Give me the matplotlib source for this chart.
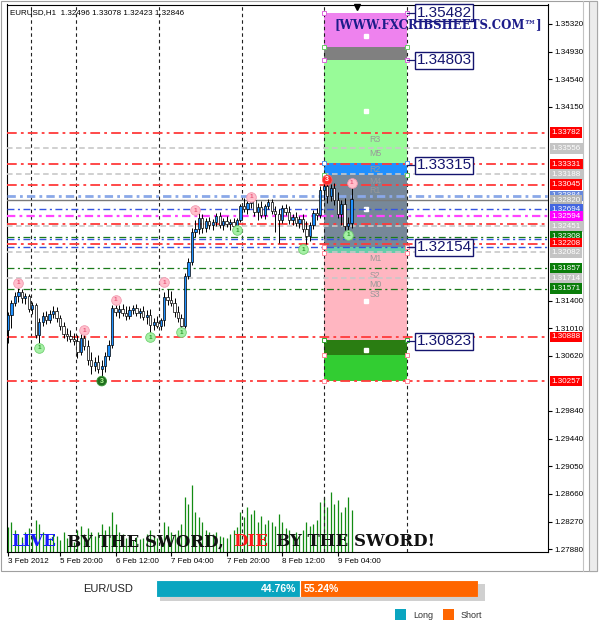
import matplotlib
matplotlib.use('Agg')
import matplotlib.pyplot as plt
from matplotlib.patches import Rectangle
import matplotlib.transforms as mtransforms

plt.rcParams['lines.scale_dashes'] = False
plt.rcParams['font.family'] = ['Liberation Sans', 'DejaVu Sans']

W, H = 599, 625

# ---------------- data ----------------
header_text = "EURUSD,H1  1.32496 1.33078 1.32423 1.32846"

opens = [1.3098, 1.3120, 1.3137, 1.3147, 1.3152, 1.3144, 1.3147, 1.3128, 1.3134, 1.3091,
         1.3110, 1.3118, 1.3112, 1.3121, 1.3125, 1.3115, 1.3104, 1.3092, 1.3090, 1.3085,
         1.3083, 1.3067, 1.3087, 1.3076, 1.3056, 1.3047, 1.3053, 1.3043, 1.3047, 1.3062,
         1.3077, 1.3129, 1.3124, 1.3128, 1.3122, 1.3118, 1.3127, 1.3129, 1.3122, 1.3125,
         1.3117, 1.3120, 1.3105, 1.3110, 1.3104, 1.3112, 1.3145, 1.3141, 1.3137, 1.3124,
         1.3115, 1.3104, 1.3175, 1.3195, 1.3237, 1.3241, 1.3257, 1.3243, 1.3253, 1.3247,
         1.3251, 1.3260, 1.3247, 1.3253, 1.3248, 1.3251, 1.3246, 1.3254, 1.3274, 1.3270,
         1.3278, 1.3283, 1.3265, 1.3273, 1.3261, 1.3274, 1.3280, 1.3267, 1.3263, 1.3254,
         1.3271, 1.3265, 1.3254, 1.3258, 1.3250, 1.3256, 1.3241, 1.3231, 1.3247, 1.3264,
         1.3261, 1.3297, 1.3302, 1.3288, 1.3299, 1.3283, 1.3263, 1.3277, 1.3246, 1.32496]
highs = [1.3124, 1.3141, 1.3152, 1.3159, 1.3156, 1.3151, 1.3149, 1.3138, 1.3137, 1.3115,
         1.3124, 1.3125, 1.3127, 1.3132, 1.3131, 1.3120, 1.3110, 1.3101, 1.3098, 1.3094,
         1.3091, 1.3095, 1.3097, 1.3084, 1.3067, 1.3060, 1.3063, 1.3056, 1.3067, 1.3084,
         1.3134, 1.3141, 1.3134, 1.3135, 1.3132, 1.3132, 1.3134, 1.3135, 1.3129, 1.3132,
         1.3127, 1.3128, 1.3115, 1.3118, 1.3115, 1.3152, 1.3156, 1.3154, 1.3144, 1.3132,
         1.3121, 1.3179, 1.3200, 1.3243, 1.3254, 1.3264, 1.3263, 1.3257, 1.3258, 1.3256,
         1.3264, 1.3265, 1.3257, 1.3260, 1.3256, 1.3257, 1.3257, 1.3277, 1.3285, 1.3281,
         1.3284, 1.3287, 1.3278, 1.3281, 1.3277, 1.3284, 1.3284, 1.3274, 1.3270, 1.3275,
         1.3277, 1.3274, 1.3263, 1.3265, 1.3260, 1.3263, 1.3253, 1.3251, 1.3268, 1.3271,
         1.3302, 1.3307, 1.3314, 1.3305, 1.3307, 1.3294, 1.3283, 1.3285, 1.3258, 1.33078]
lows = [1.3080, 1.3101, 1.3132, 1.3138, 1.3137, 1.3135, 1.3124, 1.3121, 1.3087, 1.3080,
        1.3104, 1.3107, 1.3108, 1.3115, 1.3110, 1.3099, 1.3087, 1.3083, 1.3081, 1.3077,
        1.3059, 1.3063, 1.3070, 1.3049, 1.3036, 1.3040, 1.3037, 1.3026, 1.3039, 1.3056,
        1.3073, 1.3118, 1.3115, 1.3118, 1.3112, 1.3114, 1.3121, 1.3118, 1.3115, 1.3112,
        1.3107, 1.3090, 1.3098, 1.3101, 1.3099, 1.3104, 1.3134, 1.3132, 1.3117, 1.3110,
        1.3099, 1.3101, 1.3171, 1.3190, 1.3230, 1.3234, 1.3236, 1.3237, 1.3241, 1.3240,
        1.3246, 1.3243, 1.3240, 1.3244, 1.3240, 1.3244, 1.3243, 1.3251, 1.3265, 1.3263,
        1.3271, 1.3260, 1.3254, 1.3257, 1.3256, 1.3270, 1.3263, 1.3237, 1.3222, 1.3250,
        1.3261, 1.3248, 1.3247, 1.3246, 1.3243, 1.3237, 1.3220, 1.3224, 1.3241, 1.3254,
        1.3257, 1.3283, 1.3278, 1.3281, 1.3275, 1.3257, 1.3247, 1.3240, 1.3237, 1.32423]
closes = [1.3120, 1.3137, 1.3147, 1.3152, 1.3144, 1.3147, 1.3128, 1.3134, 1.3091, 1.3110,
          1.3118, 1.3112, 1.3121, 1.3125, 1.3115, 1.3104, 1.3092, 1.3090, 1.3085, 1.3083,
          1.3067, 1.3087, 1.3076, 1.3056, 1.3047, 1.3053, 1.3043, 1.3047, 1.3062, 1.3077,
          1.3129, 1.3124, 1.3128, 1.3122, 1.3118, 1.3127, 1.3129, 1.3122, 1.3125, 1.3117,
          1.3120, 1.3105, 1.3110, 1.3104, 1.3112, 1.3145, 1.3141, 1.3137, 1.3124, 1.3115,
          1.3104, 1.3175, 1.3195, 1.3237, 1.3241, 1.3257, 1.3243, 1.3253, 1.3247, 1.3251,
          1.3260, 1.3247, 1.3253, 1.3248, 1.3251, 1.3246, 1.3254, 1.3274, 1.3270, 1.3278,
          1.3283, 1.3265, 1.3273, 1.3261, 1.3274, 1.3280, 1.3267, 1.3263, 1.3254, 1.3271,
          1.3265, 1.3254, 1.3258, 1.3250, 1.3256, 1.3241, 1.3231, 1.3247, 1.3264, 1.3261,
          1.3297, 1.3302, 1.3288, 1.3299, 1.3283, 1.3263, 1.3277, 1.3246, 1.3250, 1.32846]
volumes = [1125, 1350, 990, 810, 675, 900, 1080, 810, 1440, 1260,
           900, 675, 630, 810, 720, 540, 900, 630, 540, 450,
           990, 1170, 810, 1080, 900, 720, 900, 1260, 990, 1170,
           1800, 1260, 900, 810, 630, 720, 540, 675, 585, 630,
           810, 990, 720, 630, 675, 1350, 1170, 900, 810, 990,
           1260, 2475, 2160, 3015, 1800, 1575, 1350, 990, 900, 810,
           900, 720, 675, 630, 810, 990, 1125, 1800, 1575, 2025,
           1710, 1890, 1350, 1620, 1260, 1440, 1350, 1170, 1710, 1350,
           1080, 990, 810, 900, 720, 990, 1350, 1170, 1260, 1440,
           2250, 2475, 2025, 2700, 2160, 2340, 1800, 2025, 2475, 1890]

x_tick_bars = [0, 15, 31, 47, 63, 79, 95]
x_tick_labels = ["3 Feb 2012", "5 Feb 20:00", "6 Feb 12:00", "7 Feb 04:00",
                 "7 Feb 20:00", "8 Feb 12:00", "9 Feb 04:00"]
day_lines = [6.6, 19.6, 43.5, 67.4, 91.1, 114.9]

y_ticks = [1.35320, 1.34930, 1.34540, 1.34150, 1.31400, 1.31010, 1.30620,
           1.29840, 1.29440, 1.29050, 1.28660, 1.28270, 1.27880]

level_prices = [1.33782, 1.33556, 1.33331, 1.33188, 1.33045, 1.32884, 1.32820,
                1.32694, 1.32594, 1.32486, 1.32451, 1.32308, 1.32280, 1.32208,
                1.32154, 1.32082, 1.31857, 1.31714, 1.31571, 1.30888, 1.30257]
level_kinds = ['red', 'silver', 'red', 'silver', 'red', 'lblue', 'gray',
               'blue', 'magenta', 'red', 'silver', 'green', 'blue', 'red',
               'blue', 'silver', 'green', 'silver', 'green', 'red', 'red']
level_labeled = [True, True, True, True, True, True, True,
                 True, True, False, True, True, False, True,
                 False, True, True, True, True, True, True]

zone_tops = [1.35482, 1.34990, 1.34803, 1.33346, 1.33180, 1.32160, 1.32075, 1.30842, 1.30630]
zone_bottoms = [1.34990, 1.34803, 1.33346, 1.33180, 1.32160, 1.32075, 1.30842, 1.30630, 1.30261]
zone_colors = ['#ee82ee', '#808080', '#98fb98', '#1e90ff', '#778899',
               '#66cdaa', '#ffb6c1', '#2a7d12', '#32cd32']
zone_left, zone_right = 91.1, 114.9

pivot_names = ['R3', 'M5', 'R2', 'M4', 'R1', 'M1', 'S2', 'M0', 'S3']
pivot_prices = [1.33690, 1.33478, 1.33258, 1.33095, 1.32958, 1.31990, 1.31763, 1.31635, 1.31480]
center_dots = [1.35150, 1.34087, 1.32698, 1.31395, 1.30700]

box_prices = [1.35482, 1.34803, 1.33315, 1.32154, 1.30823]

top_mark_x = [3, 22, 31, 45, 54, 70, 99]
top_mark_y = [1.3165, 1.3098, 1.3141, 1.3166, 1.3268, 1.3287, 1.3307]
bot_mark_x = [9, 41, 50, 66, 85, 98]
bot_mark_y = [1.3073, 1.3088, 1.3095, 1.3240, 1.3213, 1.3233]
sig3_x = [27, 92]
sig3_y = [1.3026, 1.3311]

pair_name = "EUR/USD"
long_pct, short_pct = 44.76, 55.24

slogan_parts = ["LIVE", "BY THE SWORD,", "DIE", "BY THE SWORD!"]
slogan_colors = ['#1a1aff', '#111111', '#ff1a1a', '#111111']
watermark = "[WWW.FXCRIBSHEETS.COM\u2122]"

# ---------------- figure ----------------
fig = plt.figure(figsize=(W / 100, H / 100), dpi=100)
fig.patch.set_facecolor('white')


def fx(p):
    return p / W


def fy(p):
    return 1 - p / H


# window frame
fig.patches.append(Rectangle((fx(1), fy(571)), fx(597) - fx(1), (571 - 1) / H,
                             transform=fig.transFigure, fill=False, ec='#a0a0a0', lw=0.8, zorder=-2))
fig.patches.append(Rectangle((fx(589), fy(571)), fx(597) - fx(589), (571 - 1) / H,
                             transform=fig.transFigure, fc='#ececec', ec='#a8a8a8', lw=0.8, zorder=-2))
fig.lines.append(plt.Line2D([fx(583), fx(583)], [fy(1), fy(571)], transform=fig.transFigure,
                            color='#c4c4c4', lw=0.8))

X0, X1 = -0.288, 155.62
Y0, Y1 = 1.27838, 1.35596
rect = [fx(7), fy(552), fx(548) - fx(7), (552 - 4.5) / H]

axv = fig.add_axes(rect, zorder=0)
axv.set_xlim(X0, X1)
axv.set_ylim(0, 24480)
axv.axis('off')
axv.vlines(range(len(volumes)), 0, volumes, color='#138c13', lw=0.9)

ax = fig.add_axes(rect, zorder=1)
ax.patch.set_alpha(0)
ax.set_xlim(X0, X1)
ax.set_ylim(Y0, Y1)
for s in ax.spines.values():
    s.set_color('black')
    s.set_linewidth(0.8)

# zones
for t, b, c in zip(zone_tops, zone_bottoms, zone_colors):
    ax.bar((zone_left + zone_right) / 2, t - b, bottom=b, width=zone_right - zone_left,
           color=c, lw=0, zorder=1)
for name, p in zip(pivot_names, pivot_prices):
    ax.text(105.8, p, name, color='#999999', fontsize=6.3, ha='center', va='center', zorder=2)
ax.plot([103.2] * len(center_dots), center_dots, 's', ms=2.3, color='white', zorder=2)

handle_prices = [1.35482, 1.34990, 1.34803, 1.33346, 1.33180, 1.32160, 1.32075, 1.30842, 1.30630, 1.30261]
handle_cols = ['#dd66dd', '#66cc66', '#dd66dd', '#5599ee', '#66cc66', '#ff8899', '#ff8899', '#33aa33', '#ff8899', '#ff8899']
for p, c in zip(handle_prices, handle_cols):
    ax.plot([zone_left, zone_right], [p, p], 's', ms=2.6, mfc='white', mec=c, mew=0.7, zorder=4, clip_on=False)

# vertical day grid
for d in day_lines:
    ax.axvline(d, color='#202020', lw=0.8, dashes=(2.5, 2.2), zorder=2)

# horizontal levels
styles = {
    'red': dict(color='#ff3a3a', lw=1.3, dashes=(7, 3, 2, 3)),
    'silver': dict(color='#c8c8c8', lw=1.2, dashes=(4, 2.5)),
    'green': dict(color='#1a7a1a', lw=0.9, dashes=(5, 2.5, 1.5, 2.5)),
    'blue': dict(color='#3555e0', lw=1.0, dashes=(5, 2.5, 1.5, 2.5)),
    'lblue': dict(color='#8aa8e8', lw=2.0, dashes=(6, 3, 2, 3)),
    'magenta': dict(color='#ff44ff', lw=1.6, dashes=(6, 3, 2, 3)),
    'gray': dict(color='#7a7a7a', lw=1.0, linestyle='-'),
}
label_bg = {'red': '#ff0000', 'silver': '#c4c4c4', 'green': '#0a7d0a', 'blue': '#4466e0',
            'lblue': '#6688dd', 'magenta': '#ff00ff', 'gray': '#b4b4b4'}
for p, k in zip(level_prices, level_kinds):
    ax.axhline(p, zorder=3, **styles[k])

# candles
idx = list(range(len(closes)))
ax.vlines(idx, lows, highs, color='black', lw=0.7, zorder=5)
bottoms = [min(o, c) for o, c in zip(opens, closes)]
heights = [max(abs(c - o), 0.00004) for o, c in zip(opens, closes)]
body_cols = ['#1e90ff' if c >= o else 'white' for o, c in zip(opens, closes)]
ax.bar(idx, heights, bottom=bottoms, width=0.66, color=body_cols, edgecolor='black', lw=0.5, zorder=6)

# fractal / signal markers
ax.scatter(top_mark_x, top_mark_y, s=48, c='#ffbfcc', edgecolors='#f29ab0', linewidths=0.6, zorder=8)
for x, y in zip(top_mark_x, top_mark_y):
    ax.text(x, y, '1', fontsize=4.5, color='#e8587a', ha='center', va='center', zorder=9, weight='bold')
ax.scatter(bot_mark_x, bot_mark_y, s=48, c='#a6f0a6', edgecolors='#70d070', linewidths=0.6, zorder=8)
for x, y in zip(bot_mark_x, bot_mark_y):
    ax.text(x, y, '1', fontsize=4.5, color='#2e9e2e', ha='center', va='center', zorder=9, weight='bold')
ax.scatter(sig3_x, sig3_y, s=48, c=['#1f6e1f', '#ff2a2a'], edgecolors=['#3a9a3a', '#ff6060'],
           linewidths=0.6, zorder=8)
for x, y, tc in zip(sig3_x, sig3_y, ['#b8ff9a', 'white']):
    ax.text(x, y, '3', fontsize=5, color=tc, ha='center', va='center', zorder=9, weight='bold')

# right-side boxed level labels
for p in box_prices:
    ax.plot([zone_right, 117.4], [p, p], color='#1a1a6e', lw=0.9, clip_on=False, zorder=4)
    ax.text(117.7, p, f"{p:.5f}", fontsize=11, color='#14146e', va='center', ha='left',
            bbox=dict(boxstyle='square,pad=0.12', fc='white', ec='#14146e', lw=1), zorder=11)

# axes ticks
ax.yaxis.tick_right()
ax.set_yticks(y_ticks)
ax.set_yticklabels([f"{v:.5f}" for v in y_ticks])
ax.tick_params(axis='y', direction='out', length=3, width=0.8, pad=1.5, labelsize=5.8)
ax.set_xticks(x_tick_bars)
ax.set_xticklabels(x_tick_labels)
for lbl in ax.get_xticklabels():
    lbl.set_ha('left')
ax.tick_params(axis='x', direction='out', length=3, width=0.8, pad=1.5, labelsize=5.8)

# colored price labels on the axis
trans = mtransforms.blended_transform_factory(ax.transAxes, ax.transData)
for p, k, lab in zip(level_prices, level_kinds, level_labeled):
    if lab:
        ax.text(1.0068, p, f"{p:.5f}", transform=trans, fontsize=5.8, color='white',
                va='center', ha='left', clip_on=False, zorder=12,
                bbox=dict(boxstyle='square,pad=0.2', fc=label_bg[k], ec='none'))

# chart shift marker
ax.plot([100.6], [Y1 - 0.00033], marker='v', ms=4.5, color='black', clip_on=False, zorder=12)

# header and watermark
fig.text(fx(10), fy(13), header_text, fontsize=5.8, va='center', ha='left', color='black')
fig.text(fx(335), fy(25), watermark, fontsize=8.5, family='DejaVu Serif', weight='bold',
         color='#1c1c8a', va='center', ha='left')

# slogan
slogan_x = [11, 67, 233, 276]
for seg, col, sx in zip(slogan_parts, slogan_colors, slogan_x):
    fig.text(fx(sx), fy(542), seg, color=col, fontsize=12, family='DejaVu Serif',
             weight='bold', va='center', ha='left')

# sentiment bar
fig.patches.append(Rectangle((fx(160), fy(601)), fx(485) - fx(160), (601 - 584) / H,
                             transform=fig.transFigure, fc='#d0d0d0', ec='none', zorder=-1))
axs = fig.add_axes([fx(156), fy(597), fx(478) - fx(156), (597 - 580) / H], zorder=2)
axs.barh([0], [long_pct], left=0, height=1, color='#0aa5c0', edgecolor='white', lw=0.8)
axs.barh([0], [short_pct], left=long_pct, height=1, color='#ff6600', edgecolor='white', lw=0.8)
axs.set_xlim(0, 100)
axs.set_ylim(-0.5, 0.5)
axs.axis('off')
axs.text(long_pct - 1.2, 0, f"{long_pct:.2f}%", color='white', ha='right', va='center',
         fontsize=7.5, weight='bold')
axs.text(long_pct + 1.2, 0, f"{short_pct:.2f}%", color='white', ha='left', va='center',
         fontsize=7.5, weight='bold')
fig.text(fx(83), fy(589), pair_name, fontsize=8, color='#222222', va='center', ha='left')

# legend
fig.patches.append(Rectangle((fx(395), fy(620)), 11 / W, 11 / H, transform=fig.transFigure,
                             fc='#0aa5c0', ec='none'))
fig.text(fx(413), fy(615), 'Long', fontsize=6.5, va='center', ha='left', color='#333333')
fig.patches.append(Rectangle((fx(443), fy(620)), 11 / W, 11 / H, transform=fig.transFigure,
                             fc='#ff6600', ec='none'))
fig.text(fx(461), fy(615), 'Short', fontsize=6.5, va='center', ha='left', color='#333333')

fig.savefig('out.png', dpi=100)
